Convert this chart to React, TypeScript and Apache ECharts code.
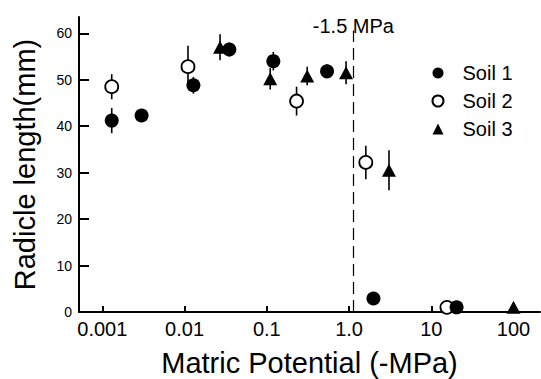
import React, { useEffect, useRef } from "react";
import * as echarts from "echarts";

// Soil 1 (filled circles): [matric potential (-MPa), radicle length (mm), error]
const soil1X = [0.0013, 0.003, 0.0128, 0.035, 0.12, 0.54, 1.98, 20.3];
const soil1Y = [41.2, 42.3, 48.8, 56.5, 54.0, 51.8, 2.9, 1.0];
const soil1Err = [2.7, 1.0, 1.8, 1.5, 2.0, 1.5, 0.5, 0];

// Soil 2 (open circles)
const soil2X = [0.0013, 0.011, 0.23, 1.6, 15.5];
const soil2Y = [48.5, 52.8, 45.4, 32.2, 1.0];
const soil2Err = [2.7, 4.5, 3.1, 3.6, 0];

// Soil 3 (triangles)
const soil3X = [0.027, 0.11, 0.31, 0.92, 3.06, 100];
const soil3Y = [57.0, 50.2, 50.8, 51.5, 30.5, 1.0];
const soil3Err = [2.8, 2.3, 2.0, 2.5, 4.3, 0];

const xTicks = [0.001, 0.01, 0.1, 1, 10, 100];
const xTickLabels = ["0.001", "0.01", "0.1", "1.0", "10", "100"];
const yTicks = [0, 10, 20, 30, 40, 50, 60];

const thresholdX = 1.13;
const thresholdLabel = "-1.5 MPa";

const FONT = "Liberation Sans, Arial, Helvetica, sans-serif";

function pts(xs: number[], ys: number[]) {
  return xs.map((x, i) => [x, ys[i]]);
}
function errs(xs: number[], ys: number[], es: number[]) {
  return xs
    .map((x, i) => [x, ys[i] - es[i], ys[i] + es[i]])
    .filter((d) => d[2] - d[1] > 0);
}

const errorSeries = (name: string, data: number[][]) => ({
  type: "custom",
  name: name + "-err",
  data,
  z: 1,
  silent: true,
  renderItem: (params: any, api: any) => {
    const p1 = api.coord([api.value(0), api.value(1)]);
    const p2 = api.coord([api.value(0), api.value(2)]);
    return {
      type: "line",
      shape: { x1: p1[0], y1: p1[1], x2: p2[0], y2: p2[1] },
      style: { stroke: "#000", lineWidth: 1.6 },
    };
  },
});

export default function App() {
  const ref = useRef<HTMLDivElement>(null);
  useEffect(() => {
    if (!ref.current) return;
    const chart = echarts.init(ref.current, null, { renderer: "svg" });
    chart.setOption({
      animation: false,
      backgroundColor: "#fff",
      textStyle: { fontFamily: FONT, color: "#000" },
      grid: { left: 79, right: 1, top: 17, bottom: 67, containLabel: false, outerBoundsMode: "none" },
      legend: {
        orient: "vertical",
        left: 431.5,
        top: 63,
        padding: 0,
        itemWidth: 11,
        itemHeight: 11,
        itemGap: 8,
        textStyle: { fontSize: 20, color: "#000", fontFamily: FONT, padding: [0, 0, 0, 14] },
        data: ["Soil 1", "Soil 2", "Soil 3"],
      },
      xAxis: {
        type: "log",
        logBase: 10,
        min: 0.00052,
        max: 210,
        name: "Matric Potential (-MPa)",
        nameLocation: "middle",
        nameGap: 36,
        nameTextStyle: { fontSize: 29, color: "#000", fontFamily: FONT },
        axisLine: { show: true, onZero: false, lineStyle: { color: "#000", width: 2 } },
        axisTick: {
          show: true,
          inside: true,
          length: 6,
          lineStyle: { color: "#000", width: 2 },
          customValues: xTicks,
        },
        minorTick: { show: false },
        axisLabel: {
          fontSize: 20,
          color: "#000",
          fontFamily: FONT,
          margin: 7,
          customValues: xTicks,
          formatter: (v: number) => {
            const i = xTicks.findIndex((t) => Math.abs(Math.log10(t) - Math.log10(v)) < 1e-6);
            return i >= 0 ? xTickLabels[i] : "";
          },
        },
        splitLine: { show: false },
      },
      yAxis: {
        type: "value",
        min: 0,
        max: 63.5,
        name: "Radicle length(mm)",
        nameLocation: "middle",
        nameGap: 40,
        nameTextStyle: { fontSize: 29, color: "#000", fontFamily: FONT },
        axisLine: { show: true, onZero: false, lineStyle: { color: "#000", width: 2 } },
        axisTick: {
          show: true,
          inside: true,
          length: 10,
          lineStyle: { color: "#000", width: 2 },
          customValues: yTicks,
        },
        axisLabel: {
          fontSize: 14,
          color: "#000",
          fontFamily: FONT,
          margin: 7,
          customValues: yTicks,
        },
        splitLine: { show: false },
      },
      series: [
        errorSeries("Soil 1", errs(soil1X, soil1Y, soil1Err)),
        errorSeries("Soil 2", errs(soil2X, soil2Y, soil2Err)),
        errorSeries("Soil 3", errs(soil3X, soil3Y, soil3Err)),
        {
          type: "scatter",
          name: "Soil 3",
          data: pts(soil3X, soil3Y),
          symbol: "triangle",
          symbolSize: [14, 13],
          itemStyle: { color: "#000", opacity: 1 },
          z: 3,
          markLine: {
            silent: true,
            symbol: "none",
            lineStyle: { color: "#000", type: [12, 6], width: 1.2 },
            label: {
              show: true,
              position: "end",
              formatter: thresholdLabel,
              fontSize: 20,
              color: "#000",
              fontFamily: FONT,
              distance: -6,
            },
            data: [
              [
                { coord: [thresholdX, 0] },
                { coord: [thresholdX, 60.6] },
              ],
            ],
          },
        },
        {
          type: "scatter",
          name: "Soil 2",
          data: pts(soil2X, soil2Y),
          symbol: "circle",
          symbolSize: 13,
          itemStyle: { color: "#fff", borderColor: "#000", borderWidth: 1.8, opacity: 1 },
          z: 4,
        },
        {
          type: "scatter",
          name: "Soil 1",
          data: pts(soil1X, soil1Y),
          symbol: "circle",
          symbolSize: 14,
          itemStyle: { color: "#000", opacity: 1 },
          z: 5,
        },
      ],
    });
    return () => chart.dispose();
  }, []);
  return <div ref={ref} style={{ width: 541, height: 379, position: "absolute", left: 0, top: 0 }} />;
}
